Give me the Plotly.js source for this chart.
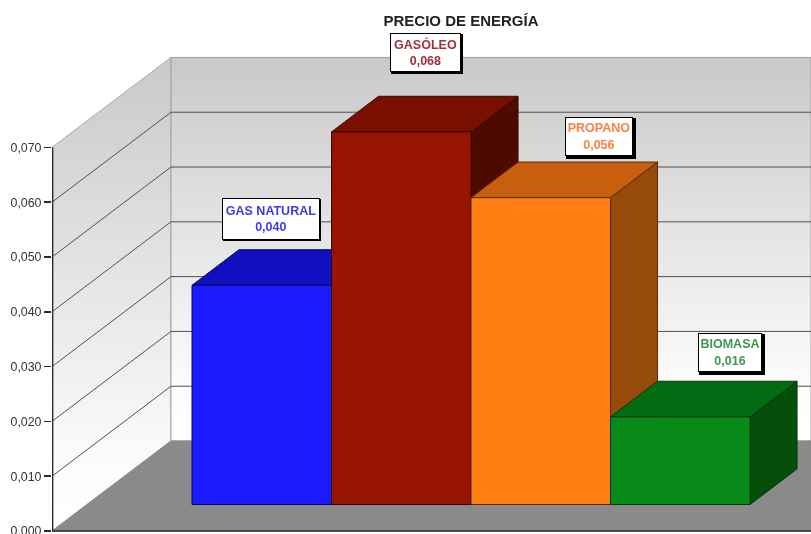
<!DOCTYPE html>
<html>
<head>
<meta charset="utf-8">
<script src="https://cdn.plot.ly/plotly-3.0.1.min.js"></script>
<style>
html,body{margin:0;padding:0;background:#fff;overflow:hidden}
#chart{width:811px;height:534px;filter:blur(0.5px)}
</style>
</head>
<body>
<div id="chart"></div>
<script>
// ---- data ----
const categories = ['GAS NATURAL', 'GASÓLEO', 'PROPANO', 'BIOMASA'];
const values = [0.040, 0.068, 0.056, 0.016];
const barPositions = [0, 1, 2, 3];
const tickValues = [0, 0.01, 0.02, 0.03, 0.04, 0.05, 0.06, 0.07];
const frontColors = ['#1a1aff', '#961400', '#ff7f14', '#078a17'];
const topColors = ['#1010c0', '#780f00', '#c75f0f', '#056b12'];
const sideColors = ['#0c0c90', '#4f0a00', '#964b0c', '#044f0c'];
const edgeColors = ['#0a0a60', '#3a0800', '#5a2a00', '#033a08'];
const labelColors = ['#3c3ce6', '#a03040', '#ff8040', '#3f9850'];

// ---- scene geometry, in axis units (x: one bar width, y: value units) ----
const xRange = [-1.5036, 3.937];
const yRange = [-0.00055, 0.0969];
const xLeft = xRange[0], xRight = xRange[1];
const wallDx = 0.853, wallDy = 0.01642;     // depth of the whole floor
const barBase = 0.00483;                    // y offset of the bars' front plane
const barDx = 0.337, barDy = 0.00650;       // depth of one bar
const axisTop = 0.07;
const axisNudge = 0.004;                    // keeps the axis stroke inside the plot clip

function poly(xs, ys, color, line) {
  return {x: xs.concat(xs[0]), y: ys.concat(ys[0]), type: 'scatter', mode: 'lines', fill: 'toself',
    fillcolor: color, line: {color: line || color, width: 1}, hoverinfo: 'skip', showlegend: false};
}
function grad(trace) {
  trace.fillgradient = {type: 'vertical', colorscale: [[0, '#ffffff'], [0.12, '#fdfdfd'], [1, '#c9c9c9']]};
  delete trace.fillcolor;
  return trace;
}

const traces = [];
const bx = xLeft + wallDx, by = wallDy;
// walls
traces.push(grad(poly([xLeft, xLeft, bx, bx], [0, axisTop, axisTop + by, by], '#ddd', '#a8a8a8')));
traces.push(grad(poly([bx, bx, xRight, xRight], [by, axisTop + by, axisTop + by, by], '#ddd', '#a0a0a0')));
// floor
traces.push(poly([xLeft, bx, xRight, xRight], [0, by, by, 0], '#8a8a8a'));
// grid lines
const gx = [], gy = [];
tickValues.slice(1, -1).forEach(v => {
  gx.push(xLeft, bx, xRight, null);
  gy.push(v, v + by, v + by, null);
});
traces.push({x: gx, y: gy, type: 'scatter', mode: 'lines', line: {color: '#505050', width: 1}, hoverinfo: 'skip', showlegend: false});
// axis lines
traces.push({x: [xLeft + axisNudge, xLeft + axisNudge, null, xLeft, xRight], y: [axisTop, 0, null, 0, 0], type: 'scatter', mode: 'lines',
  line: {color: '#2a2a2a', width: 1.6}, hoverinfo: 'skip', showlegend: false});
// top and side faces, left to right so nearer ones cover farther ones
barPositions.forEach((p, i) => {
  const l = p - 0.5, r = p + 0.5, top = values[i] + barBase;
  traces.push(poly([r, r + barDx, r + barDx, r], [barBase, barBase + barDy, top + barDy, top], sideColors[i], edgeColors[i]));
  traces.push(poly([l, l + barDx, r + barDx, r], [top, top + barDy, top + barDy, top], topColors[i], edgeColors[i]));
});
// front faces, on the overlaying subplot so they stay above every other face
traces.push({type: 'bar', x: barPositions, y: values, base: values.map(() => barBase), width: 1, xaxis: 'x2', yaxis: 'y2',
  marker: {color: frontColors, line: {color: edgeColors, width: 1}}, text: categories, textposition: 'none',
  hoverinfo: 'text', showlegend: false});

// ---- value labels ----
const labelBoxes = [[222, 198, 320, 240], [390, 33, 461, 72], [565, 117, 633, 156], [698, 333, 762, 372]];
const shadows = [2, 3, 4, 4];
const W = 811, H = 534;
const ml = 52, pw = W - ml;   // paper coordinates run across the plot area
const shapes = labelBoxes.map((b, i) => ({
  type: 'rect', xref: 'paper', yref: 'paper', layer: 'above',
  x0: (b[0] + 1 - ml) / pw, x1: (b[2] + shadows[i] - 1 - ml) / pw,
  y0: 1 - (b[3] + shadows[i] - 1) / H, y1: 1 - (b[1] + 1) / H,
  fillcolor: '#000', line: {width: 0}
}));
const annotations = categories.map((c, i) => {
  const b = labelBoxes[i];
  return {
    xref: 'paper', yref: 'paper', showarrow: false,
    x: ((b[0] + b[2]) / 2 - ml) / pw, y: 1 - (b[1] + b[3]) / 2 / H,
    xanchor: 'center', yanchor: 'middle',
    width: b[2] - b[0] - 4, height: b[3] - b[1] - 4, borderpad: 1, borderwidth: 1,
    bordercolor: '#000', bgcolor: '#fff', align: 'center', valign: 'middle',
    text: '<b>' + c + '<br>' + values[i].toFixed(3).replace('.', ',') + '</b>',
    font: {family: 'Liberation Sans, Arial, sans-serif', size: 12.5, color: labelColors[i]}
  };
});

const layout = {
  width: W, height: H, autosize: false,
  margin: {l: ml, r: 0, t: 0, b: 0, pad: 0},
  paper_bgcolor: '#fff', plot_bgcolor: '#fff',
  separators: ',.', showlegend: false, hovermode: 'closest',
  title: {text: '<b>PRECIO DE ENERGÍA</b>', x: 461 / W, xref: 'container', xanchor: 'center', y: 1 - 21 / H, yref: 'container', yanchor: 'middle',
    font: {family: 'Liberation Sans, Arial, sans-serif', size: 15, color: '#222'}},
  xaxis: {range: xRange, visible: false, fixedrange: true},
  yaxis: {range: yRange, tickmode: 'array', tickvals: tickValues, tickformat: '.3f', ticks: 'outside', ticklen: 7, tickwidth: 1.5, tickcolor: '#2a2a2a',
    showgrid: false, zeroline: false, showline: false, fixedrange: true, ticklabeloverflow: 'allow',
    tickfont: {family: 'Liberation Sans, Arial, sans-serif', size: 12.4, color: '#333'}},
  xaxis2: {range: xRange, overlaying: 'x', visible: false, fixedrange: true},
  yaxis2: {range: yRange, overlaying: 'y', visible: false, fixedrange: true},
  shapes, annotations
};
Plotly.newPlot('chart', traces, layout, {displayModeBar: false, staticPlot: true});
</script>
</body>
</html>
